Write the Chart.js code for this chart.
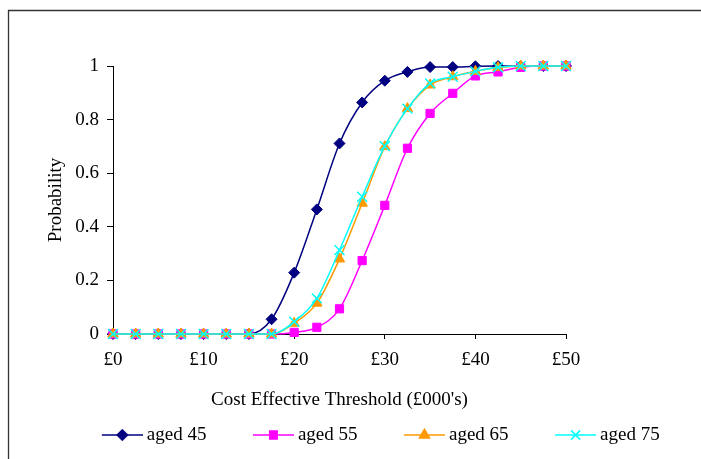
<!DOCTYPE html>
<html>
<head>
<meta charset="utf-8">
<script src="https://cdn.jsdelivr.net/npm/chart.js@4.4.1/dist/chart.umd.min.js"></script>
<style>
  html, body { margin: 0; padding: 0; background: #fff; }
  #wrap { width: 701px; height: 459px; }
</style>
</head>
<body>
<div id="wrap"><canvas id="myChart" width="701" height="459"></canvas></div>
<script>
// Threshold in £000's
const thresholds = [0, 2.5, 5, 7.5, 10, 12.5, 15, 17.5, 20, 22.5, 25, 27.5, 30, 32.5, 35, 37.5, 40, 42.5, 45, 47.5, 50];

// Probability cost effective, per age group
const aged45 = [0, 0, 0, 0, 0, 0, 0, 0.055, 0.229, 0.465, 0.711, 0.864, 0.945, 0.978, 0.996, 0.996, 0.999, 1, 1, 1, 1];
const aged55 = [0, 0, 0, 0, 0, 0, 0, 0, 0.006, 0.025, 0.094, 0.274, 0.48, 0.693, 0.823, 0.898, 0.963, 0.978, 0.995, 1, 1];
const aged65 = [0, 0, 0, 0, 0, 0, 0, 0, 0.04, 0.115, 0.28, 0.488, 0.699, 0.841, 0.929, 0.96, 0.98, 0.994, 1, 1, 1];
const aged75 = [0, 0, 0, 0, 0, 0, 0, 0, 0.046, 0.133, 0.313, 0.512, 0.701, 0.841, 0.935, 0.96, 0.98, 0.995, 1, 1, 1];

const seriesNames = ['aged 45', 'aged 55', 'aged 65', 'aged 75'];
const xTicks = [0, 10, 20, 30, 40, 50];
const yTicks = [0, 0.2, 0.4, 0.6, 0.8, 1];

Chart.defaults.font.family = "'Liberation Serif', 'Times New Roman', serif";
Chart.defaults.font.size = 19;
Chart.defaults.color = '#000';

function toPoints(values) {
    return values.map((v, i) => ({ x: thresholds[i], y: v }));
}

// legend swatch: a short line with the series marker in the middle
function legendSwatch(color, style, radius) {
    const c = document.createElement('canvas');
    c.width = 83;
    c.height = 14;
    const g = c.getContext('2d');
    g.strokeStyle = color;
    g.lineWidth = 1.5;
    g.beginPath();
    g.moveTo(42, 7);
    g.lineTo(83, 7);
    g.stroke();
    Chart.helpers.drawPoint(g, { pointStyle: style, radius: radius, borderWidth: 1.5, rotation: 0 }, 62.5, 7);
    g.fillStyle = color;
    g.beginPath();
    if (style !== 'crossRot') {
        Chart.helpers.drawPoint(g, { pointStyle: style, radius: radius, borderWidth: 1, rotation: 0 }, 62.5, 7);
        g.fill();
    }
    return c;
}

function makeSeries(label, values, color, style, radius, order) {
    return {
        label: label,
        data: toPoints(values),
        borderColor: color,
        backgroundColor: color,
        borderWidth: 1.5,
        pointStyle: style,
        pointRadius: radius,
        pointHoverRadius: radius,
        pointBorderWidth: style === 'crossRot' ? 1.5 : 1,
        cubicInterpolationMode: 'monotone',
        clip: false,
        order: order,
        swatch: { color: color, style: style, radius: radius },
    };
}

// outer frame lines
const framePlugin = {
    id: 'frame',
    beforeDraw(chart) {
        const c = chart.ctx;
        c.save();
        c.fillStyle = '#fff';
        c.fillRect(0, 0, chart.width, chart.height);
        c.strokeStyle = '#333';
        c.lineWidth = 1.3;
        c.beginPath();
        c.moveTo(8.5, chart.height);
        c.lineTo(8.5, 10.5);
        c.lineTo(chart.width, 10.5);
        c.stroke();
        c.restore();
    },
};

const ctx = document.getElementById('myChart').getContext('2d');
const myChart = new Chart(ctx, {
    type: 'line',
    data: {
        datasets: [
            makeSeries(seriesNames[0], aged45, '#000080', 'rectRot', 5.5, 4),
            makeSeries(seriesNames[1], aged55, '#FF00FF', 'rect', 5.8, 3),
            makeSeries(seriesNames[2], aged65, '#FF9900', 'triangle', 6, 2),
            makeSeries(seriesNames[3], aged75, '#00FFFF', 'crossRot', 7, 1),
        ],
    },
    plugins: [framePlugin],
    options: {
        responsive: false,
        animation: false,
        events: [],
        layout: {
            padding: { left: 24, right: 0, top: 66, bottom: 4.5 },
        },
        plugins: {
            tooltip: { enabled: false },
            legend: {
                position: 'bottom',
                labels: {
                    usePointStyle: true,
                    pointStyleWidth: 72,
                    padding: 10,
                    generateLabels(chart) {
                        return chart.data.datasets.map((ds, i) => ({
                            text: ds.label,
                            datasetIndex: i,
                            pointStyle: legendSwatch(ds.swatch.color, ds.swatch.style, ds.swatch.radius - 0.5),
                            fillStyle: ds.swatch.color,
                            strokeStyle: ds.swatch.color,
                            lineWidth: 0,
                            hidden: false,
                        }));
                    },
                },
            },
        },
        scales: {
            x: {
                type: 'linear',
                min: 0,
                max: 50,
                grid: { drawOnChartArea: false, drawTicks: true, tickLength: 5, color: '#000' },
                border: { display: true, color: '#000', width: 1 },
                afterBuildTicks: s => { s.ticks = xTicks.map(v => ({ value: v })); },
                ticks: {
                    padding: 10,
                    maxRotation: 0,
                    callback: v => '£' + v,
                },
                title: {
                    display: true,
                    text: "Cost Effective Threshold (£000's)",
                    padding: { top: 0, bottom: 4 },
                },
                afterFit: s => { s.height = 81.5; },
            },
            y: {
                type: 'linear',
                min: 0,
                max: 1,
                grid: { drawOnChartArea: false, drawTicks: true, tickLength: 6, color: '#000' },
                border: { display: true, color: '#000', width: 1 },
                afterBuildTicks: s => { s.ticks = yTicks.map(v => ({ value: v })); },
                ticks: {
                    padding: 8,
                    callback: v => String(v),
                },
                title: {
                    display: true,
                    text: 'Probability',
                    padding: { top: 20.6, bottom: 0 },
                },
                afterFit: s => { s.width = 89; },
            },
            // empty axis on the right, keeps the plot narrower than the legend row
            yPad: {
                type: 'linear',
                axis: 'y',
                position: 'right',
                grid: { display: false },
                border: { display: false },
                ticks: { display: false },
                afterFit: s => { s.width = 135; },
            },
        },
    },
});
</script>
</body>
</html>
